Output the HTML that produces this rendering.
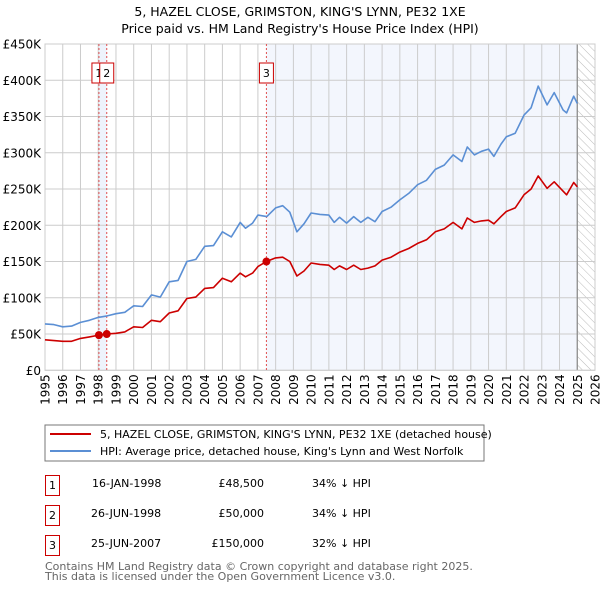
<!DOCTYPE html>
<html><head><meta charset="utf-8"><style>
body{margin:0;background:#fff;width:600px;height:590px;overflow:hidden;font-family:"DejaVu Sans","Liberation Sans",sans-serif}
svg text{font-family:"DejaVu Sans","Liberation Sans",sans-serif}
</style></head><body>
<svg id="c" width="600" height="590" viewBox="0 0 600 590" xmlns="http://www.w3.org/2000/svg">
<defs><pattern id="hatch" width="6" height="6" patternUnits="userSpaceOnUse" patternTransform="rotate(-45)"><line x1="0" y1="0" x2="0" y2="6" stroke="#bbb" stroke-width="1"/></pattern></defs>
<text x="300" y="16" text-anchor="middle" font-size="12.5">5, HAZEL CLOSE, GRIMSTON, KING'S LYNN, PE32 1XE</text>
<text x="300" y="33" text-anchor="middle" font-size="12.5">Price paid vs. HM Land Registry's House Price Index (HPI)</text>
<g id="plot"></g>
<rect x="45" y="425" width="439" height="36" fill="#fff" stroke="#777"/>
<line x1="50" y1="434" x2="91" y2="434" stroke="#cc0000" stroke-width="2"/>
<text x="100" y="438" font-size="11">5, HAZEL CLOSE, GRIMSTON, KING'S LYNN, PE32 1XE (detached house)</text>
<line x1="50" y1="451" x2="91" y2="451" stroke="#5b8fd4" stroke-width="2"/>
<text x="100" y="455" font-size="11">HPI: Average price, detached house, King's Lynn and West Norfolk</text>
<g font-size="11">
<rect x="45.5" y="475.5" width="14" height="20" fill="none" stroke="#cc0000"/><text x="52.5" y="489" text-anchor="middle">1</text>
<text x="92" y="487">16-JAN-1998</text><text x="264" y="487" text-anchor="end">£48,500</text><text x="312" y="487">34% ↓ HPI</text>
<rect x="45.5" y="505.5" width="14" height="20" fill="none" stroke="#cc0000"/><text x="52.5" y="519" text-anchor="middle">2</text>
<text x="91" y="517">26-JUN-1998</text><text x="264" y="517" text-anchor="end">£50,000</text><text x="312" y="517">34% ↓ HPI</text>
<rect x="45.5" y="535.5" width="14" height="20" fill="none" stroke="#cc0000"/><text x="52.5" y="549" text-anchor="middle">3</text>
<text x="91" y="547">25-JUN-2007</text><text x="264" y="547" text-anchor="end">£150,000</text><text x="312" y="547">32% ↓ HPI</text>
</g>
<text x="45" y="570" font-size="11" fill="#666">Contains HM Land Registry data © Crown copyright and database right 2025.</text>
<text x="45" y="580" font-size="11" fill="#666">This data is licensed under the Open Government Licence v3.0.</text>
</svg>
<script>
const hpiYears=[1995,1995.5,1996,1996.5,1997,1997.5,1998,1998.5,1999,1999.5,2000,2000.5,2001,2001.5,2002,2002.5,2003,2003.5,2004,2004.5,2005,2005.5,2006,2006.3,2006.7,2007,2007.5,2008,2008.4,2008.8,2009.2,2009.6,2010,2010.5,2011,2011.3,2011.6,2012,2012.4,2012.8,2013.2,2013.6,2014,2014.5,2015,2015.5,2016,2016.5,2017,2017.5,2018,2018.5,2018.8,2019.2,2019.6,2020,2020.3,2020.7,2021,2021.5,2022,2022.4,2022.8,2023.3,2023.7,2024.2,2024.4,2024.8,2025.0];
const hpiValues=[64,63,60,61,66,69,73,75,78,80,89,88,104,101,122,124,150,153,171,172,191,184,204,196,203,214,212,224,227,218,191,202,217,215,214,204,211,203,212,204,211,205,219,225,235,244,256,262,277,283,297,288,308,297,302,305,295,312,322,327,352,362,392,366,383,359,355,378,368];
const priceYears=[1995,1995.5,1996,1996.5,1997,1997.5,1998.04,1998.48,1999,1999.5,2000,2000.5,2001,2001.5,2002,2002.5,2003,2003.5,2004,2004.5,2005,2005.5,2006,2006.3,2006.7,2007,2007.48,2008,2008.4,2008.8,2009.2,2009.6,2010,2010.5,2011,2011.3,2011.6,2012,2012.4,2012.8,2013.2,2013.6,2014,2014.5,2015,2015.5,2016,2016.5,2017,2017.5,2018,2018.5,2018.8,2019.2,2019.6,2020,2020.3,2020.7,2021,2021.5,2022,2022.4,2022.8,2023.3,2023.7,2024.2,2024.4,2024.8,2025.0];
const priceValues=[42,41,40,40,44,46,48.5,50,51,53,60,59,69,67,79,82,99,101,113,114,127,122,134,129,134,143,150,155,156,150,130,137,148,146,145,139,144,139,145,139,141,144,152,156,163,168,175,180,191,195,204,195,210,204,206,207,202,212,219,224,242,250,268,251,260,247,242,259,253];
const saleYears=[1998.04,1998.48,2007.48];
const saleValues=[48.5,50,150];
const saleLabels=['1','2','3'];
const yTicks=[0,50,100,150,200,250,300,350,400,450];
const yTickLabels=['£0','£50K','£100K','£150K','£200K','£250K','£300K','£350K','£400K','£450K'];
const xTicks=[1995,1996,1997,1998,1999,2000,2001,2002,2003,2004,2005,2006,2007,2008,2009,2010,2011,2012,2013,2014,2015,2016,2017,2018,2019,2020,2021,2022,2023,2024,2025,2026];

const L=45,R=595,T=44,B=370.3,x0=1995,x1=2026,ymax=450;
const X=v=>L+(v-x0)/(x1-x0)*(R-L);
const Y=v=>B-v/ymax*(B-T);
const NS='http://www.w3.org/2000/svg';
const g=document.getElementById('plot');
function mk(t,a){const e=document.createElementNS(NS,t);for(const k in a)e.setAttribute(k,a[k]);g.appendChild(e);return e;}
let e;
e=mk('rect',{x:X(saleYears[0]),y:T,width:X(saleYears[1])-X(saleYears[0]),height:B-T,fill:'#eef3fc'});


e=mk('rect',{x:X(saleYears[2]),y:T,width:X(2025.0)-X(saleYears[2]),height:B-T,fill:'#f3f6fd'});


e=mk('rect',{x:X(2025.0),y:T,width:R-X(2025.0),height:B-T,fill:'url(#hatch)'});


yTicks.forEach((v,i)=>{
 e=mk('line',{x1:L,x2:R,y1:Y(v),y2:Y(v),stroke:'#ccc','stroke-width':1});
 
 
 e=mk('text',{x:L-4,y:Y(v)+4.5,'text-anchor':'end','font-size':12});
 e.textContent=yTickLabels[i];
 
 
});
xTicks.forEach(v=>{
 e=mk('line',{x1:X(v),x2:X(v),y1:T,y2:B,stroke:'#ccc','stroke-width':1});
 
 
 const tx=X(v)+4.5, ty=B+4;
 e=mk('text',{x:tx,y:ty,'text-anchor':'end','font-size':12,transform:'rotate(-90 '+tx+' '+ty+')'});
 e.textContent=String(v);
 
 
});
e=mk('line',{x1:X(2025.0),x2:X(2025.0),y1:T,y2:B,stroke:'#888','stroke-width':1.2});


e=mk('rect',{x:L,y:T,width:R-L,height:B-T,fill:'none',stroke:'#ccc'});


saleYears.forEach((v,i)=>{
 e=mk('line',{x1:X(v),x2:X(v),y1:T,y2:B,stroke:'#e05050','stroke-width':1,'stroke-dasharray':'2,2'});
 
 
});
const pts=(xs,ys)=>xs.map((x,i)=>X(x).toFixed(1)+','+Y(ys[i]).toFixed(1)).join(' ');
e=mk('polyline',{points:pts(hpiYears,hpiValues),fill:'none',stroke:'#5b8fd4','stroke-width':1.6,'stroke-linejoin':'round'});


e=mk('polyline',{points:pts(priceYears,priceValues),fill:'none',stroke:'#cc0000','stroke-width':1.6,'stroke-linejoin':'round'});


saleYears.forEach((v,i)=>{
 e=mk('circle',{cx:X(v),cy:Y(saleValues[i]),r:4,fill:'#cc0000'});
 
 
});
saleYears.forEach((v,i)=>{
 const bx=X(v)-7;
 e=mk('rect',{x:bx,y:63,width:14,height:20,fill:'#fff',stroke:'#cc0000'});
 
 
 e=mk('text',{x:bx+7,y:77,'text-anchor':'middle','font-size':11});
 e.textContent=saleLabels[i];
 
 
});
</script>
</body></html>
